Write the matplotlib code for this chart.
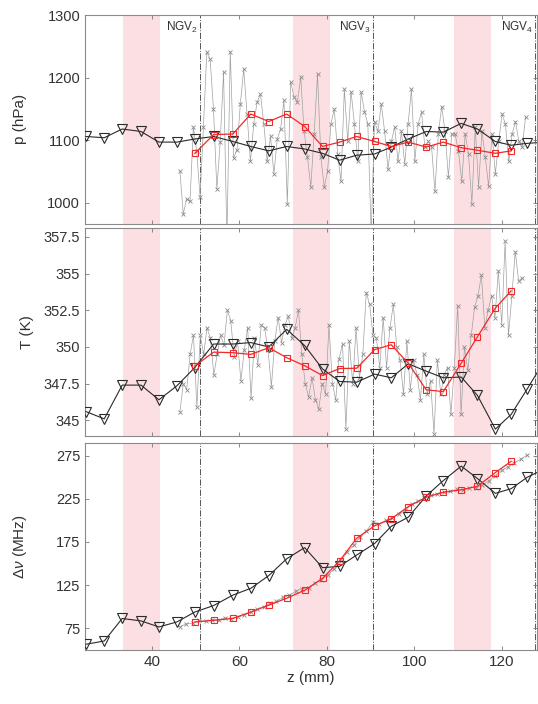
import numpy as np
import matplotlib.pyplot as plt
from matplotlib.ticker import FixedLocator

plt.rcParams['font.family'] = ['Liberation Sans', 'DejaVu Sans']
plt.rcParams['mathtext.fontset'] = 'custom'
plt.rcParams['mathtext.rm'] = 'Liberation Sans'
plt.rcParams['mathtext.it'] = 'Liberation Sans:italic'

# --- data (z in mm) ---
z_tri = [24.9, 29.1, 33.2, 37.5, 41.6, 45.7, 49.8, 54.1, 58.5, 62.6, 66.7, 70.8, 74.9,
         79.0, 82.9, 86.8, 90.9, 94.7, 98.6, 102.7, 106.6, 110.7, 114.4, 118.5, 122.1,
         125.8, 129.8]
p_tri = [1106, 1104, 1118, 1114, 1097, 1097, 1102, 1106, 1098, 1090, 1083, 1090, 1086,
         1079, 1068, 1076, 1078, 1089, 1102, 1114, 1113, 1127, 1118, 1098, 1092, 1095, 1097]
T_tri = [345.6, 345.1, 347.4, 347.4, 346.4, 347.35, 348.6, 350.2, 350.2, 350.3, 350.0,
         351.2, 350.1, 348.5, 347.65, 347.6, 348.15, 347.9, 348.85, 348.35, 347.9, 347.95,
         346.7, 344.4, 345.4, 347.15, 349.1]
dnu_tri = [56.4, 60.2, 86.3, 83.5, 76.5, 82.3, 93.8, 101.3, 113.4, 121.3, 136.0, 155.5,
           168.5, 145.2, 146.8, 159.9, 173.2, 193.2, 203.8, 228.4, 246.2, 263.0, 248.6,
           231.4, 236.8, 250.1, 260.0]

z_red = [49.8, 54.1, 58.5, 62.6, 66.7, 70.8, 74.9, 79.0, 82.9, 86.8, 90.9, 94.7, 98.6,
         102.7, 106.6, 110.7, 114.4, 118.5, 122.1]
p_red = [1079, 1109, 1110, 1142, 1130, 1142, 1122, 1090, 1097, 1106, 1098, 1090, 1097,
         1089, 1097, 1088, 1084, 1079, 1083]
T_red = [348.70, 349.65, 349.61, 349.49, 349.95, 349.27, 348.72, 348.05, 348.53, 348.55,
         349.82, 350.15, 348.89, 347.08, 346.96, 348.89, 350.69, 352.65, 353.82]
dnu_red = [82.2, 84.2, 86.4, 93.8, 101.7, 109.8, 119.0, 132.9, 153.2, 179.4, 193.8, 201.8,
           216.0, 227.0, 232.6, 235.5, 239.6, 255.5, 268.5]

p_gray = [1050, 982, 1006, 1002, 1121, 1082, 1009, 1121, 1241, 1230, 1150, 1022, 1097,
          1209, 940, 1242, 1071, 1085, 1158, 1214, 1142, 1066, 1126, 1161, 1174, 1126,
          1066, 1106, 1046, 1102, 1118, 1164, 998, 1194, 1169, 1161, 1201, 1114, 1073,
          1025, 1110, 1206, 1073, 1025, 1050, 1126, 1150, 1078, 1034, 1182, 1098, 1178,
          1126, 1066, 1177, 1146, 1126, 950, 1130, 1114, 1158, 1114, 1054, 1098, 1121,
          1066, 1114, 1062, 1126, 1182, 1066, 1126, 1145, 1089, 1098, 1089, 1018, 1110,
          1154, 1114, 1041, 1110, 1110, 1082, 1034, 1110, 1078, 998, 1121, 1025, 1114,
          1073, 1026, 1110, 1046, 1098, 1142, 1126, 1066, 1110, 1130, 1098, 1089, 1137]
T_gray = [345.6, 347.5, 347.1, 349.5, 350.8, 345.9, 350.8, 349.5, 351.3, 350.6, 348.1,
          349.5, 350.8, 350.1, 352.5, 351.8, 349.3, 350.4, 347.7, 349.8, 351.3, 346.5,
          350.6, 348.8, 351.5, 351.3, 349.8, 347.3, 350.4, 352.0, 350.3, 351.5, 352.1,
          350.6, 351.3, 352.5, 349.5, 347.5, 346.6, 347.9, 346.4, 345.8, 347.5, 346.8,
          351.5, 347.5, 346.4, 349.2, 350.2, 344.4, 350.4, 347.5, 351.3, 347.9, 349.5,
          353.7, 352.9, 350.8, 350.6, 348.6, 352.0, 348.6, 351.3, 352.9, 350.0, 349.1,
          346.8, 350.4, 347.1, 349.1, 348.1, 346.4, 349.5, 346.8, 347.7, 344.1, 349.1,
          346.8, 348.1, 348.6, 345.4, 348.6, 352.8, 345.4, 350.0, 348.4, 350.8, 352.7,
          353.5, 354.9, 351.3, 352.5, 353.5, 352.0, 355.2, 351.5, 357.2, 350.8, 353.5,
          356.5, 354.5, 354.7]
dnu_gray = [77, 80, 81, 84, 83, 85, 84, 87, 86, 88, 90, 94, 97, 100, 104, 106, 111, 113,
            118, 121, 122, 127, 131, 137, 144, 153, 163, 171, 181, 188, 198, 196, 200, 203,
            208, 211, 219, 222, 226, 229, 231, 233, 234, 236, 235, 238, 238, 241, 246, 252,
            258, 262, 267, 271, 276]

ngv_z = [50.9, 90.5, 127.6]
ngv_names = ['NGV$_2$', 'NGV$_3$', 'NGV$_4$']
bands = [(33.4, 41.8), (72.3, 80.7), (109.1, 117.5)]

z_gray_top = np.linspace(46.4, 125.4, len(p_gray))
z_gray_mid = np.linspace(46.4, 124.6, len(T_gray))
z_gray_bot = np.linspace(46.4, 125.8, len(dnu_gray))

fig = plt.figure(figsize=(5.38, 7.04), dpi=100)
left, width = 0.158, 0.84
ax1 = fig.add_axes([left, 0.682, width, 0.297])
ax2 = fig.add_axes([left, 0.380, width, 0.296])
ax3 = fig.add_axes([left, 0.077, width, 0.294])

panels = [
    (ax1, z_gray_top, p_gray, p_tri, p_red, (966, 1301), [1000, 1100, 1200, 1300],
     ['1000', '1100', '1200', '1300'], 'p (hPa)', -0.128),
    (ax2, z_gray_mid, T_gray, T_tri, T_red, (343.9, 358.1), [345, 347.5, 350, 352.5, 355, 357.5],
     ['345', '347.5', '350', '352.5', '355', '357.5'], 'T (K)', -0.112),
    (ax3, z_gray_bot, dnu_gray, dnu_tri, dnu_red, (50, 290), [75, 125, 175, 225, 275],
     ['75', '125', '175', '225', '275'], r'$\Delta\nu$ (MHz)', -0.123),
]

for ax, zg, gray, tri, red, ylim, yt, ytl, ylab, lx in panels:
    for a, b in bands:
        ax.axvspan(a, b, color='#fcdfe3', lw=0, zorder=0)
    for zn in ngv_z:
        ax.axvline(zn, color='#555555', lw=0.7, ls='-.', zorder=1)
    ax.plot(zg, gray, color='#a0a0a0', lw=0.5, marker='x', ms=3.5, mew=0.6,
            mec='#8a8a8a', zorder=2)
    ax.plot(z_tri, tri, color='#2a2a2a', lw=0.8, marker='v', ms=6.5, mfc='none',
            mec='#2a2a2a', mew=0.8, zorder=3)
    ax.plot(z_red, red, color='#ee2a2a', lw=0.9, marker='s', ms=5, mfc='none',
            mec='#ee2a2a', mew=0.8, zorder=4)
    ax.set_xlim(24.7, 128)
    ax.set_ylim(*ylim)
    ax.yaxis.set_major_locator(FixedLocator(yt))
    ax.set_yticklabels(ytl)
    ax.set_xticks([40, 60, 80, 100, 120])
    ax.tick_params(direction='in', top=True, right=True, length=3, width=0.6,
                   color='#777777', labelsize=10.5, labelcolor='#333333')
    for s in ax.spines.values():
        s.set_color('#8a8a8a')
        s.set_linewidth(0.8)
    ax.set_ylabel(ylab, fontsize=11, color='#333333')
    ax.yaxis.set_label_coords(lx, 0.5)

ax1.set_xticklabels([])
ax2.set_xticklabels([])
ax3.tick_params(axis='x', labelsize=11)
ax3.set_xlabel('z (mm)', fontsize=11, color='#333333', labelpad=2)

for zn, name in zip(ngv_z, ngv_names):
    ax1.text(zn - 0.4, 1293, name, ha='right', va='top', fontsize=8.5, color='#333333')

fig.savefig('out.png', dpi=100)
